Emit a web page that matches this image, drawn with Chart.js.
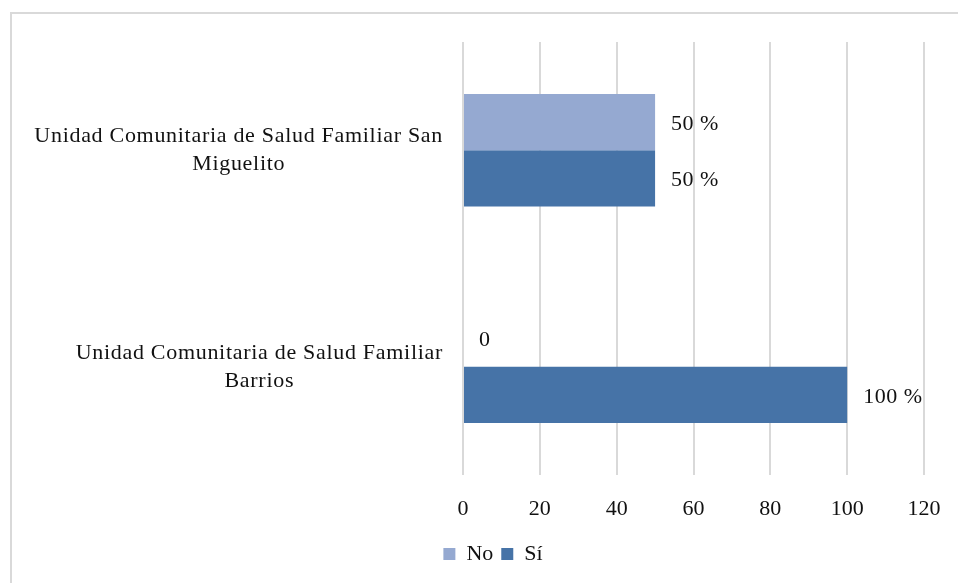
<!DOCTYPE html>
<html lang="es">
<head>
<meta charset="utf-8">
<title>Unidades Comunitarias de Salud Familiar</title>
<script src="https://cdn.jsdelivr.net/npm/chart.js@4.4.1/dist/chart.umd.min.js"></script>
<style>
    html, body { margin: 0; padding: 0; background: #fff; }
    #wrap { position: relative; width: 958px; height: 583px; overflow: hidden; }
    /* marco del grafico (solo se ve arriba y a la izquierda) */
    #marco {
        position: absolute; left: 10px; top: 12px; width: 960px; height: 600px;
        border-top: 2px solid #d9d9d9; border-left: 2px solid #d9d9d9;
    }
    #grafico { position: absolute; left: 0; top: 0; }
</style>
</head>
<body>
<div id="wrap">
    <div id="marco"></div>
    <canvas id="grafico" width="958" height="583"></canvas>
</div>
<script>
// -------------------------------------------------------------------------
// Datos
// -------------------------------------------------------------------------
const unidades = [
    ["Unidad Comunitaria de Salud Familiar San", "Miguelito"],
    ["Unidad Comunitaria de Salud Familiar", "Barrios"]
];
const serieNo = [50, 0];
const serieSi = [50, 100];
const ticksX = [0, 20, 40, 60, 80, 100, 120];

const FUENTE = "'Liberation Serif', 'Times New Roman', serif";
const COLOR_TEXTO = "#111";

// Etiquetas de categoria centradas linea por linea (estilo Excel)
const etiquetasCategoria = {
    id: "etiquetasCategoria",
    afterDraw(chart) {
        const ctx = chart.ctx;
        const y = chart.scales.y;
        const derecha = chart.chartArea.left - 20;
        const alto = 28;
        ctx.save();
        ctx.font = "22px " + FUENTE;
        ctx.letterSpacing = "0.7px";
        ctx.fillStyle = COLOR_TEXTO;
        ctx.textAlign = "center";
        ctx.textBaseline = "middle";
        unidades.forEach((lineas, i) => {
            const maxW = Math.max(...lineas.map(l => ctx.measureText(l).width));
            const cx = derecha - maxW / 2;
            const cy = y.getPixelForValue(i);
            const y0 = cy - (lineas.length - 1) * alto / 2;
            lineas.forEach((l, k) => ctx.fillText(l, cx, y0 + k * alto));
        });
        ctx.restore();
    }
};

// Etiquetas de valor al final de cada barra
const etiquetasValor = {
    id: "etiquetasValor",
    afterDatasetsDraw(chart) {
        const ctx = chart.ctx;
        ctx.save();
        ctx.font = "22px " + FUENTE;
        ctx.letterSpacing = "0.5px";
        ctx.fillStyle = COLOR_TEXTO;
        ctx.textAlign = "left";
        ctx.textBaseline = "middle";
        chart.data.datasets.forEach((ds, d) => {
            const meta = chart.getDatasetMeta(d);
            meta.data.forEach((bar, i) => {
                const v = ds.data[i];
                const txt = v === 0 ? "0" : v + " %";
                ctx.fillText(txt, bar.x + 16, bar.y + 2);
            });
        });
        ctx.restore();
    }
};

// Desplaza la leyenda para centrarla como en el original
const moverLeyenda = {
    id: "moverLeyenda",
    afterLayout(chart) {
        if (chart.legend) {
            chart.legend.left += 31;
            chart.legend.right += 31;
        }
    }
};

new Chart(document.getElementById("grafico").getContext("2d"), {
    type: "bar",
    data: {
        labels: unidades,
        datasets: [
            { label: "No", data: serieNo, backgroundColor: "#95a9d1" },
            { label: "Sí", data: serieSi, backgroundColor: "#4673a7" }
        ]
    },
    options: {
        indexAxis: "y",
        responsive: false,
        animation: false,
        layout: { padding: { left: 0, right: 34, top: 42, bottom: 8 } },
        datasets: {
            bar: { barPercentage: 1, categoryPercentage: 0.52 }
        },
        scales: {
            x: {
                min: 0,
                max: 120,
                afterBuildTicks: (s) => { s.ticks = ticksX.map(v => ({ value: v })); },
                grid: { color: "#d9d9d9", lineWidth: 2, drawTicks: false },
                border: { display: false },
                ticks: {
                    padding: 21,
                    color: COLOR_TEXTO,
                    font: { family: FUENTE, size: 22 }
                },
                afterFit: (s) => {
                    s.height = 60;
                    s.paddingLeft = 0;
                    s.paddingRight = 0;
                }
            },
            y: {
                grid: { display: false },
                border: { display: false },
                ticks: { display: false },
                afterFit: (s) => { s.width = 463; }
            }
        },
        plugins: {
            legend: {
                position: "bottom",
                labels: {
                    boxWidth: 12,
                    boxHeight: 12,
                    color: COLOR_TEXTO,
                    font: { family: FUENTE, size: 22 },
                    padding: 8
                }
            },
            tooltip: { enabled: false }
        }
    },
    plugins: [etiquetasCategoria, etiquetasValor, moverLeyenda]
});
</script>
</body>
</html>
